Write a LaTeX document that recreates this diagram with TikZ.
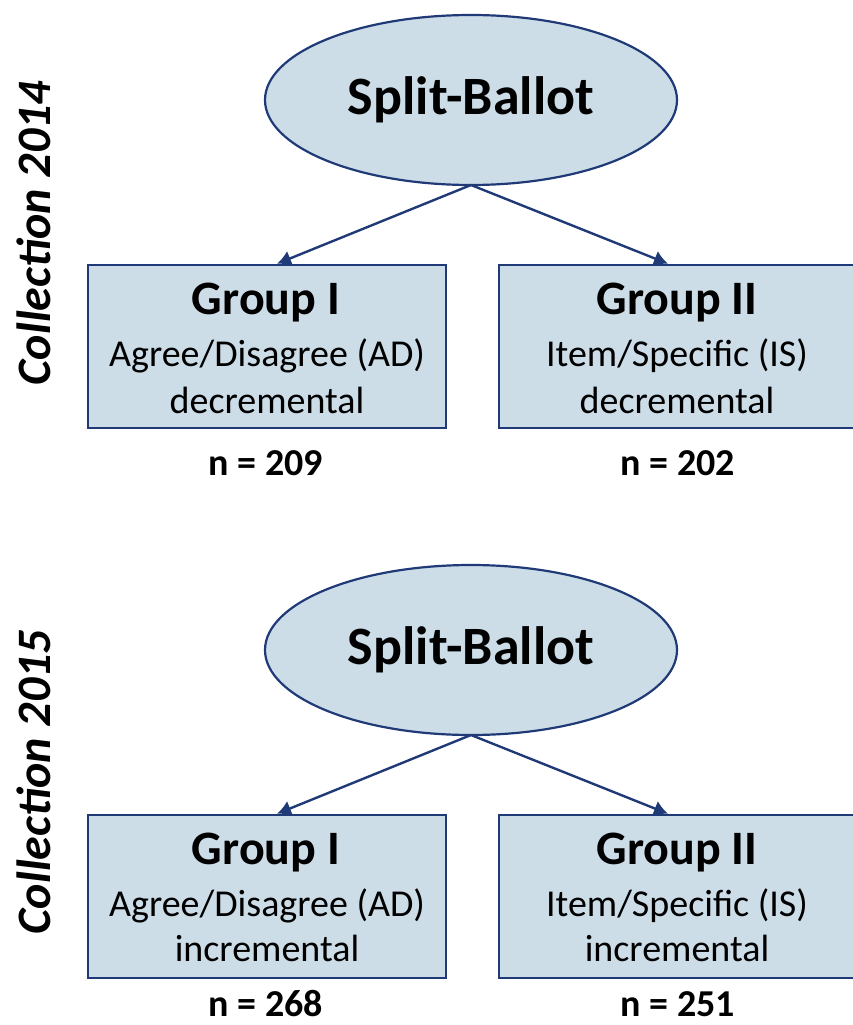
\documentclass[tikz,border=0pt]{standalone}
\usepackage{fontspec}
\setmainfont{Carlito}
\usetikzlibrary{arrows.meta,shapes.geometric}
\definecolor{boxfill}{RGB}{204,221,232}
\definecolor{boxline}{RGB}{31,58,118}
\begin{document}
\begin{tikzpicture}[x=1pt,y=-1pt,
  ballot/.style={ellipse,draw=boxline,fill=boxfill,line width=2.2pt,minimum width=412pt,minimum height=170pt,inner sep=0pt,font=\fontsize{54}{60}\selectfont\bfseries},
  groupbox/.style={draw=boxline,fill=boxfill,line width=2.5pt,minimum width=358pt,minimum height=163pt,inner sep=0pt},
  gtitle/.style={font=\fontsize{48}{54}\selectfont\bfseries},
  gtext/.style={font=\fontsize{38}{44}\selectfont},
  ncount/.style={font=\fontsize{38}{44}\selectfont\bfseries},
  coll/.style={rotate=90,font=\fontsize{48}{54}\selectfont\bfseries\itshape},
  conn/.style={draw=boxline,line width=2.4pt,-{Latex[length=14pt,width=16pt]}}]
\useasboundingbox (0,0) rectangle (853,1025);
\begin{scope}
\clip (0,0) rectangle (853,1025);
% 2014
\node[ballot] (sb1) at (471,100) {Split-Ballot};
\node[groupbox] (g1a) at (267,346.5) {};
\node[groupbox] (g1b) at (678,346.5) {};
\node[gtitle] (t1a) at (266,303) {Group I};
\node[gtext] (l1a) at (267,356) {Agree/Disagree (AD)};
\node[gtext] (m1a) at (267,400) {decremental};
\node[gtitle] (t1b) at (677,303) {Group II};
\node[gtext] (l1b) at (677,356) {Item/Specific (IS)};
\node[gtext] (m1b) at (677,400) {decremental};
\node[ncount] (n1a) at (266,463) {n = 209};
\node[ncount] (n1b) at (678,463) {n = 202};
\coordinate (s1) at (471,185);
\draw[conn] (s1) -- (g1a.north -| 277,0);
\draw[conn] (s1) -- (g1b.north -| 668,0);
\node[coll] (c1) at (34,233) {Collection 2014};
% 2015
\node[ballot] (sb2) at (471,650) {Split-Ballot};
\node[groupbox] (g2a) at (267,896.5) {};
\node[groupbox] (g2b) at (678,896.5) {};
\node[gtitle] (t2a) at (266,853) {Group I};
\node[gtext] (l2a) at (267,906) {Agree/Disagree (AD)};
\node[gtext] (m2a) at (267,948) {incremental};
\node[gtitle] (t2b) at (677,853) {Group II};
\node[gtext] (l2b) at (677,906) {Item/Specific (IS)};
\node[gtext] (m2b) at (677,948) {incremental};
\node[ncount] (n2a) at (266,1004) {n = 268};
\node[ncount] (n2b) at (678,1004) {n = 251};
\coordinate (s2) at (471,735);
\draw[conn] (s2) -- (g2a.north -| 277,0);
\draw[conn] (s2) -- (g2b.north -| 668,0);
\node[coll] (c2) at (34,782) {Collection 2015};
\end{scope}
\end{tikzpicture}
\end{document}
